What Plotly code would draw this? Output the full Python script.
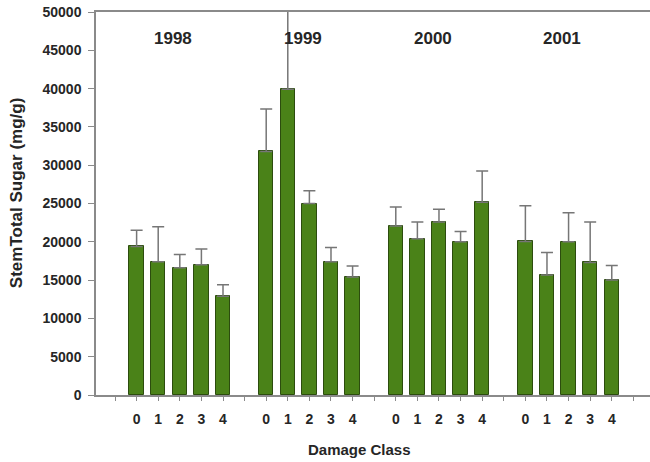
import plotly.graph_objects as go

# Stem total sugar by damage class, grouped by year
years = ["1998", "1999", "2000", "2001"]
damage_classes = ["0", "1", "2", "3", "4"]

sugar_1998 = [19400, 17400, 16600, 17000, 12900]
err_1998 = [2100, 4550, 1750, 2050, 1500]

sugar_1999 = [31800, 39900, 25000, 17400, 15400]
err_1999 = [5550, 12000, 1650, 1850, 1450]

sugar_2000 = [22050, 20400, 22600, 20000, 25150]
err_2000 = [2500, 2200, 1650, 1350, 4100]

sugar_2001 = [20050, 15650, 20000, 17300, 15000]
err_2001 = [4650, 2950, 3800, 5300, 1900]

y_ticks = [0, 5000, 10000, 15000, 20000, 25000, 30000, 35000, 40000, 45000, 50000]

series = [
    (sugar_1998, err_1998),
    (sugar_1999, err_1999),
    (sugar_2000, err_2000),
    (sugar_2001, err_2001),
]

FONT = "Arial, Liberation Sans, sans-serif"
TXT = "#262626"
AXIS = "#8a8a8a"
BAR_FILL = "#4a8218"
BAR_EDGE = "#2c4c0e"

# each year occupies 5 slots, separated by one empty slot
group_step = len(damage_classes) + 1

fig = go.Figure()
tickvals, ticktext = [], []
for g, (vals, errs) in enumerate(series):
    xs = [1 + g * group_step + k for k in range(len(damage_classes))]
    fig.add_trace(go.Bar(
        x=xs, y=vals, width=0.66,
        marker=dict(color=BAR_FILL, line=dict(color=BAR_EDGE, width=1)),
        error_y=dict(type="data", symmetric=False, array=errs,
                     arrayminus=[0] * len(errs),
                     color="#767676", thickness=1.5, width=6),
        showlegend=False, hoverinfo="skip",
    ))
    tickvals.append(g * group_step)
    ticktext.append("")
    tickvals.extend(xs)
    ticktext.extend(damage_classes)
tickvals.append(len(series) * group_step)
ticktext.append("")

# year labels above each group
for g, yr in enumerate(years):
    fig.add_annotation(
        x=1 + g * group_step + 1.7, y=0.931, xref="x", yref="paper",
        xanchor="center", yanchor="middle",
        text=yr, showarrow=False,
        font=dict(family=FONT, size=17, color=TXT, weight="bold"),
    )

# axis titles
fig.add_annotation(
    x=-0.1435, y=0.5257, xref="paper", yref="paper",
    xanchor="center", yanchor="middle",
    text="StemTotal Sugar (mg/g)", textangle=-90, showarrow=False,
    font=dict(family=FONT, size=17, color=TXT, weight="bold"),
)
fig.add_annotation(
    x=0.4765, y=-0.1435, xref="paper", yref="paper",
    xanchor="center", yanchor="middle",
    text="Damage Class", showarrow=False,
    font=dict(family=FONT, size=15, color=TXT, weight="bold"),
)

fig.update_layout(
    width=650, height=462,
    margin=dict(l=96, r=0, t=12, b=67),
    paper_bgcolor="white", plot_bgcolor="white",
    bargap=0,
    xaxis=dict(
        range=[-0.88, 24.77], tickmode="array",
        tickvals=tickvals, ticktext=ticktext,
        ticks="outside", ticklen=4, tickcolor=AXIS, tickwidth=1,
        showline=True, linecolor=AXIS, linewidth=1.5, mirror=True,
        showgrid=False, zeroline=False,
        tickfont=dict(family=FONT, size=14, color=TXT, weight="bold"),
        ticklabelstandoff=6,
    ),
    yaxis=dict(
        range=[0, 50000], tickmode="array", tickvals=y_ticks,
        ticktext=[str(v) for v in y_ticks],
        ticks="outside", ticklen=6, tickcolor=AXIS, tickwidth=1,
        showline=True, linecolor=AXIS, linewidth=1.5,
        showgrid=False, zeroline=False,
        tickfont=dict(family=FONT, size=14, color=TXT, weight="bold"),
        ticklabelstandoff=4,
    ),
)

fig.write_html("out.html")
